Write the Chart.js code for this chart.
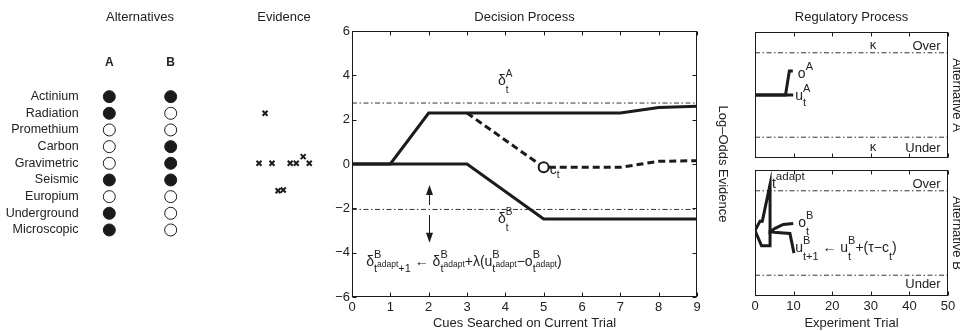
<!DOCTYPE html>
<html lang="en">
<head>
<meta charset="UTF-8" />
<title>Alternatives, Evidence, Decision and Regulatory Process</title>
<script src="https://cdn.jsdelivr.net/npm/chart.js"></script>
<style>
  html, body { margin: 0; padding: 0; background: #fff; }
  body { width: 960px; height: 331px; position: relative; overflow: hidden; }
  canvas { position: absolute; }
</style>
</head>
<body>
  <canvas id="alt" width="240" height="331" style="left:0px;top:0px"></canvas>
  <canvas id="evid" width="90" height="331" style="left:240px;top:0px"></canvas>
  <canvas id="decision" width="400" height="331" style="left:330px;top:0px"></canvas>
  <canvas id="regA" width="230" height="164" style="left:730px;top:0px"></canvas>
  <canvas id="regB" width="230" height="167" style="left:730px;top:164px"></canvas>

<script>
  const FONT = '"Liberation Sans", Arial, Helvetica, sans-serif';
  const INK = '#1b1b1b';
  const TXT = '#222';
  Chart.defaults.font.family = FONT;
  Chart.defaults.color = TXT;

  // ---- data ----
  // alternatives (1 = cue present / filled dot)
  const cues = ['Actinium', 'Radiation', 'Promethium', 'Carbon', 'Gravimetric', 'Seismic', 'Europium', 'Underground', 'Microscopic'];
  const altLabels = ['A', 'B'];
  const altA = [1, 1, 0, 0, 0, 1, 0, 1, 1];
  const altB = [1, 0, 0, 1, 1, 1, 0, 0, 0];

  // evidence marks (x position, row)
  const evX = [2.2, 1.5, 3.0, 5.1, 5.8, 6.6, 7.3, 3.7, 4.3];
  const evY = [1, 4, 4, 4, 4, 3.6, 4, 5.65, 5.6];

  // decision process
  const cueTicks = [0, 1, 2, 3, 4, 5, 6, 7, 8, 9];
  const evidTicks = [-6, -4, -2, 0, 2, 4, 6];
  const upperX = [0, 1, 2, 3, 7, 8, 9];
  const upperY = [0, 0, 2.3, 2.3, 2.3, 2.55, 2.6];
  const lowerX = [0, 3, 5, 9];
  const lowerY = [0, 0, -2.48, -2.48];
  const walkX = [3, 5, 7, 8, 9];
  const walkY = [2.3, -0.15, -0.15, 0.12, 0.15];
  const deltaA = 2.75;
  const deltaB = -2.05;
  const stopX = 5, stopY = -0.15;

  // regulatory process
  const trialTicks = [0, 10, 20, 30, 40, 50];
  const kappaOver = 0.835, kappaUnder = 0.165;
  const oAx = [0, 7.9, 8.9, 9.8], oAy = [0.5, 0.5, 0.69, 0.69];
  const uAx = [0, 9.9], uAy = [0.5, 0.5];
  const oBx = [0, 1.3, 1.9, 3.9, 3.9, 5.2, 7.3, 9.9];
  const oBy = [0.52, 0.594, 0.594, 0.885, 0.51, 0.537, 0.568, 0.576];
  const uBx = [0, 1.7, 3.9, 3.9, 5.6, 9.05, 10.1];
  const uBy = [0.52, 0.398, 0.398, 0.51, 0.503, 0.497, 0.34];

  // ---- helpers ----
  const pts = (xs, ys) => xs.map((x, i) => ({ x, y: ys[i] }));
  const DASHDOT = [5, 2.5, 1.5, 2.5];
  const line = (xs, ys, extra) => Object.assign({
    data: pts(xs, ys), borderColor: INK, borderWidth: 3, pointRadius: 0, fill: false, tension: 0
  }, extra || {});
  const hline = (x0, x1, y) => line([x0, x1], [y, y], { borderWidth: 1, borderColor: '#333', borderDash: DASHDOT });
  const noGrid = { display: false, drawTicks: false };

  const M = 13, S = 10, SS = 8;
  const tx = (t, s, dy) => [t, s || M, dy || 0];
  const supsub = (sup, sub, s) => ({ g: [[tx(sup, s || S, -8)], sub] });

  // draws a run of text pieces, groups stack sup/sub at the same x
  function rich(ctx, x, y, seq) {
    let cx = x;
    for (const it of seq) {
      if (Array.isArray(it)) {
        ctx.font = it[1] + 'px ' + FONT;
        ctx.fillText(it[0], cx, y + it[2]);
        cx += ctx.measureText(it[0]).width;
      } else {
        let w = 0;
        for (const sub of it.g) w = Math.max(w, rich(ctx, cx, y, sub));
        cx += w;
      }
    }
    return cx - x;
  }

  function label(ctx, text, x, y, size, align, weight) {
    ctx.font = (weight ? weight + ' ' : '') + size + 'px ' + FONT;
    ctx.textAlign = align || 'center';
    ctx.fillText(text, x, y);
    ctx.textAlign = 'left';
  }

  function vtext(ctx, text, x, y, size) {
    ctx.save();
    ctx.translate(x, y);
    ctx.rotate(Math.PI / 2);
    ctx.font = size + 'px ' + FONT;
    ctx.textAlign = 'center';
    ctx.fillText(text, 0, 0);
    ctx.restore();
  }

  // matlab-like frame with inward ticks
  function frame(chart, xt, yt) {
    const { ctx, chartArea: a, scales } = chart;
    ctx.save();
    ctx.strokeStyle = INK;
    ctx.lineWidth = 1;
    const L = Math.round(a.left) + 0.5, R = Math.round(a.right) - 0.5;
    const T = Math.round(a.top) + 0.5, B = Math.round(a.bottom) - 0.5;
    ctx.strokeRect(L, T, R - L, B - T);
    ctx.beginPath();
    for (const v of xt || []) {
      const px = Math.round(scales.x.getPixelForValue(v)) + 0.5;
      ctx.moveTo(px, B); ctx.lineTo(px, B - 4);
      ctx.moveTo(px, T); ctx.lineTo(px, T + 4);
    }
    for (const v of yt || []) {
      const py = Math.round(scales.y.getPixelForValue(v)) + 0.5;
      ctx.moveTo(L, py); ctx.lineTo(L + 4, py);
      ctx.moveTo(R, py); ctx.lineTo(R - 4, py);
    }
    ctx.stroke();
    ctx.restore();
  }

  function arrow(ctx, x, y0, y1) {
    const dir = y1 > y0 ? 1 : -1;
    ctx.beginPath();
    ctx.moveTo(x, y0); ctx.lineTo(x, y1 - dir * 8);
    ctx.stroke();
    ctx.beginPath();
    ctx.moveTo(x, y1);
    ctx.lineTo(x - 3.5, y1 - dir * 10);
    ctx.lineTo(x + 3.5, y1 - dir * 10);
    ctx.closePath();
    ctx.fill();
  }

  const base = {
    responsive: false,
    animation: false,
    events: [],
    plugins: { legend: { display: false }, tooltip: { enabled: false } }
  };

  // ---- alternatives ----
  new Chart(document.getElementById('alt'), {
    type: 'scatter',
    data: {
      datasets: [altA, altB].map((col, k) => ({
        data: cues.map((c, i) => ({ x: k, y: i })),
        pointRadius: 6,
        pointBorderWidth: 1,
        pointBorderColor: INK,
        pointBackgroundColor: col.map(v => v ? INK : '#fff')
      }))
    },
    options: Object.assign({}, base, {
      layout: { padding: { top: 0, left: 0, right: 38.6, bottom: 92.7 } },
      scales: {
        x: {
          position: 'top', min: -0.5, max: 1.5,
          grid: noGrid, border: { display: false },
          afterBuildTicks: s => { s.ticks = altLabels.map((l, i) => ({ value: i })); },
          ticks: { padding: 18, font: { size: 12, weight: 'bold' }, color: TXT, callback: v => altLabels[v] },
          afterFit: s => { s.height = 88.3; }
        },
        y: {
          min: -0.5, max: 8.5, reverse: true,
          grid: noGrid, border: { display: false },
          afterBuildTicks: s => { s.ticks = cues.map((c, i) => ({ value: i })); },
          ticks: { padding: 0, font: { size: 12.5 }, color: TXT, callback: v => cues[v] },
          afterFit: s => { s.width = 78.6; }
        }
      }
    }),
    plugins: [{
      id: 'altTitle',
      afterDraw(chart) {
        const ctx = chart.ctx;
        ctx.save(); ctx.fillStyle = TXT;
        label(ctx, 'Alternatives', 140, 21, 13);
        ctx.restore();
      }
    }]
  });

  // ---- evidence ----
  new Chart(document.getElementById('evid'), {
    type: 'scatter',
    data: {
      datasets: [{
        data: pts(evX, evY),
        pointStyle: 'crossRot', pointRadius: 3.5, pointBorderWidth: 2, pointBorderColor: INK
      }]
    },
    options: Object.assign({}, base, {
      layout: { padding: { top: 88.3, bottom: 92.7, left: 0, right: 0 } },
      scales: {
        x: { display: false, min: 0, max: 9 },
        y: { display: false, min: -0.5, max: 8.5, reverse: true }
      }
    }),
    plugins: [{
      id: 'evTitle',
      afterDraw(chart) {
        const ctx = chart.ctx;
        ctx.save(); ctx.fillStyle = TXT;
        label(ctx, 'Evidence', 44, 21, 13);
        ctx.restore();
      }
    }]
  });

  // ---- decision process ----
  const fmt = v => v < 0 ? '\u2212' + Math.abs(v) : String(v);
  new Chart(document.getElementById('decision'), {
    type: 'line',
    data: {
      datasets: [
        { data: [{ x: stopX, y: stopY }], showLine: false, pointRadius: 5, pointBorderWidth: 2,
          pointBorderColor: INK, pointBackgroundColor: '#fff' },
        line(walkX, walkY, { borderDash: [7, 4] }),
        line(upperX, upperY),
        line(lowerX, lowerY),
        hline(0, 9, deltaA),
        hline(0, 9, deltaB)
      ]
    },
    options: Object.assign({}, base, {
      layout: { padding: { top: 31, left: 0, right: 0, bottom: 0 } },
      scales: {
        x: {
          type: 'linear', min: 0, max: 9,
          grid: noGrid, border: { display: false },
          afterBuildTicks: s => { s.ticks = cueTicks.map(v => ({ value: v })); },
          ticks: { padding: 3, font: { size: 13 }, color: TXT },
          title: { display: true, text: 'Cues Searched on Current Trial', font: { size: 13 }, color: TXT, padding: 0 },
          afterFit: s => { s.height = 34; }
        },
        y: {
          min: -6, max: 6,
          grid: noGrid, border: { display: false },
          afterBuildTicks: s => { s.ticks = evidTicks.map(v => ({ value: v })); },
          ticks: { padding: 2, font: { size: 13 }, color: TXT, callback: fmt },
          afterFit: s => { s.width = 22; }
        },
        y2: {
          position: 'right',
          grid: noGrid, border: { display: false },
          ticks: { display: false },
          title: { display: true, text: 'Log\u2013Odds Evidence', font: { size: 13 }, color: TXT, padding: 0 },
          afterFit: s => { s.width = 33; }
        }
      }
    }),
    plugins: [{
      id: 'decisionDeco',
      afterDraw(chart) {
        const { ctx, chartArea: a, scales: { x, y } } = chart;
        frame(chart, cueTicks, evidTicks);
        ctx.save();
        ctx.fillStyle = TXT; ctx.strokeStyle = INK; ctx.lineWidth = 1;
        label(ctx, 'Decision Process', (a.left + a.right) / 2, 21, 13);
        rich(ctx, x.getPixelForValue(3.81), y.getPixelForValue(3.56), [tx('\u03b4', 14), supsub('A', [tx('t', S, 8)])]);
        rich(ctx, x.getPixelForValue(3.81), y.getPixelForValue(-2.66), [tx('\u03b4', 14), supsub('B', [tx('t', S, 8)])]);
        rich(ctx, x.getPixelForValue(5.16), y.getPixelForValue(-0.45), [tx('c', 14), tx('t', S, 4)]);
        const tad = [tx('t', 11, 6), tx('adapt', 8.5, 1)];
        const F = 14;
        rich(ctx, x.getPixelForValue(0.37), y.getPixelForValue(-4.6), [
          tx('\u03b4', F), supsub('B', tad, 11), tx('+1', 11, 6), tx(' \u2190 ', F),
          tx('\u03b4', F), supsub('B', tad, 11), tx('+\u03bb(u', F), supsub('B', tad, 11),
          tx('\u2212o', F), supsub('B', tad, 11), tx(')', F)
        ]);
        const ax = Math.round(x.getPixelForValue(2)) + 0.5;
        ctx.fillStyle = INK;
        arrow(ctx, ax, y.getPixelForValue(-1.85), y.getPixelForValue(-0.95));
        arrow(ctx, ax, y.getPixelForValue(-2.3), y.getPixelForValue(-3.55));
        ctx.restore();
      }
    }]
  });

  // ---- regulatory process ----
  const regScaleX = { type: 'linear', min: 0, max: 50 };
  const regScaleY = { display: false, min: 0, max: 1 };

  new Chart(document.getElementById('regA'), {
    type: 'line',
    data: {
      datasets: [
        line(oAx, oAy),
        line(uAx, uAy),
        hline(0, 50, kappaOver),
        hline(0, 50, kappaUnder)
      ]
    },
    options: Object.assign({}, base, {
      layout: { padding: { left: 25, right: 12, top: 32, bottom: 6 } },
      scales: { x: Object.assign({ display: false }, regScaleX), y: regScaleY }
    }),
    plugins: [{
      id: 'regADeco',
      afterDraw(chart) {
        const { ctx, chartArea: a, scales: { x, y } } = chart;
        frame(chart, trialTicks, []);
        ctx.save(); ctx.fillStyle = TXT;
        label(ctx, 'Regulatory Process', (a.left + a.right) / 2, 21, 13);
        label(ctx, '\u03ba', x.getPixelForValue(30.6), y.getPixelForValue(0.865), 13);
        label(ctx, '\u03ba', x.getPixelForValue(30.6), y.getPixelForValue(0.056), 13);
        label(ctx, 'Over', x.getPixelForValue(48.1), y.getPixelForValue(0.857), 13, 'right');
        label(ctx, 'Under', x.getPixelForValue(48.1), y.getPixelForValue(0.048), 13, 'right');
        rich(ctx, x.getPixelForValue(11.1), y.getPixelForValue(0.635), [tx('o', 14), tx('A', 11, -8)]);
        rich(ctx, x.getPixelForValue(10.4), y.getPixelForValue(0.46), [tx('u', 14), supsub('A', [tx('t', 11, 6)], 11)]);
        vtext(ctx, 'Alternative A', 223, (a.top + a.bottom) / 2, 13);
        ctx.restore();
      }
    }]
  });

  new Chart(document.getElementById('regB'), {
    type: 'line',
    data: {
      datasets: [
        line(oBx, oBy),
        line(uBx, uBy),
        hline(0, 50, kappaOver),
        hline(0, 50, kappaUnder)
      ]
    },
    options: Object.assign({}, base, {
      layout: { padding: { left: 25, right: 12, top: 6, bottom: 0 } },
      scales: {
        x: Object.assign({
          grid: noGrid, border: { display: false },
          afterBuildTicks: s => { s.ticks = trialTicks.map(v => ({ value: v })); },
          ticks: { padding: 3, font: { size: 13 }, color: TXT },
          title: { display: true, text: 'Experiment Trial', font: { size: 13 }, color: TXT, padding: 0 },
          afterFit: s => { s.height = 35; }
        }, regScaleX),
        y: regScaleY
      }
    }),
    plugins: [{
      id: 'regBDeco',
      afterDraw(chart) {
        const { ctx, chartArea: a, scales: { x, y } } = chart;
        frame(chart, trialTicks, []);
        ctx.save(); ctx.fillStyle = TXT;
        label(ctx, 'Over', x.getPixelForValue(48.1), y.getPixelForValue(0.857), 13, 'right');
        label(ctx, 'Under', x.getPixelForValue(48.1), y.getPixelForValue(0.063), 13, 'right');
        rich(ctx, x.getPixelForValue(4.4), y.getPixelForValue(0.857), [tx('t', 14), tx('adapt', 11.5, -8)]);
        rich(ctx, x.getPixelForValue(11.2), y.getPixelForValue(0.548), [tx('o', 14), supsub('B', [tx('t', 11, 8)], 11)]);
        rich(ctx, x.getPixelForValue(10.4), y.getPixelForValue(0.35), [
          tx('u', 14), supsub('B', [tx('t+1', 11, 8)], 11), tx(' \u2190 ', 14), tx('u', 14), supsub('B', [tx('t', 11, 8)], 11),
          tx('+(\u03c4\u2212c', 14), tx('t', 11, 8), tx(')', 14)
        ]);
        vtext(ctx, 'Alternative B', 223, (a.top + a.bottom) / 2, 13);
        ctx.restore();
      }
    }]
  });
</script>
</body>
</html>
